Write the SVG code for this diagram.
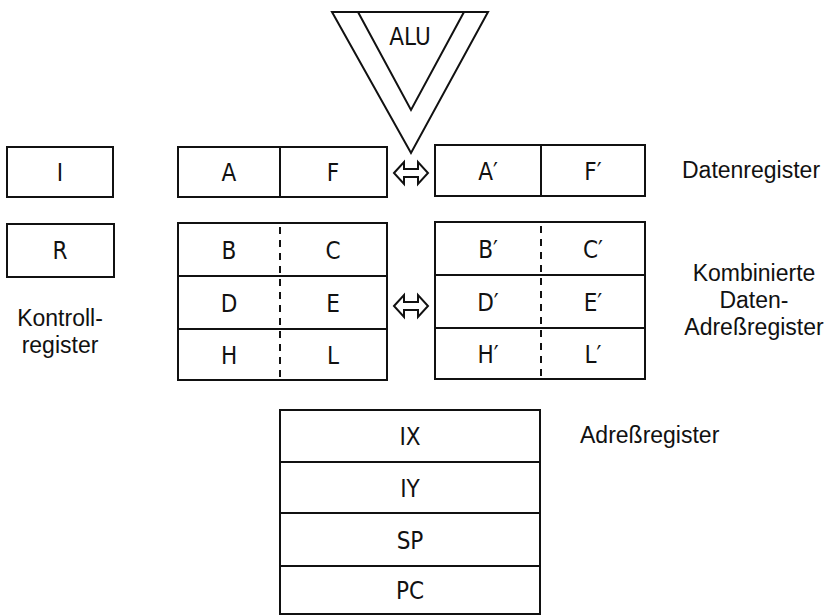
<svg xmlns="http://www.w3.org/2000/svg" width="829" height="616" viewBox="0 0 829 616">
<style>
.box{fill:#fff;stroke:#111;stroke-width:2}
.ln{stroke:#111;stroke-width:2;fill:none}
.dash{stroke:#111;stroke-width:2;stroke-dasharray:7 6;fill:none}
.reg{font-family:"DejaVu Sans Condensed","DejaVu Sans",sans-serif;font-size:24px;fill:#111;text-anchor:middle}
.lbl{font-family:"Liberation Sans",Arial,sans-serif;font-size:23px;fill:#111}
.arr{fill:#fff;stroke:#111;stroke-width:2;stroke-linejoin:miter}
</style>
<rect width="829" height="616" fill="#fff"/>
<g id="alu">
<polygon class="ln" points="332,12 488,12 411,153"/>
<polyline class="ln" points="358,12 411,110 464,12"/>
<text class="reg" x="410" y="45">ALU</text>
</g>
<g id="reg-I">
<rect class="box" x="7" y="147" width="106" height="50"/>
<text class="reg" x="60" y="181">I</text>
</g>
<g id="reg-R">
<rect class="box" x="7" y="224" width="107" height="53"/>
<text class="reg" x="60" y="259">R</text>
</g>
<g id="label-kontroll">
<text class="lbl" x="60" y="326" text-anchor="middle" font-size="22">Kontroll-</text>
<text class="lbl" x="60" y="353" text-anchor="middle" font-size="22">register</text>
</g>
<g id="reg-AF">
<rect class="box" x="178" y="147" width="209" height="50"/>
<line class="ln" x1="280" y1="147" x2="280" y2="197"/>
<text class="reg" x="229" y="181">A</text>
<text class="reg" x="333" y="181">F</text>
</g>
<g id="reg-AF2">
<rect class="box" x="435" y="145" width="210" height="51"/>
<line class="ln" x1="541" y1="145" x2="541" y2="196"/>
<text class="reg" x="488" y="180">A′</text>
<text class="reg" x="593" y="180">F′</text>
</g>
<g id="label-daten">
<text class="lbl" x="682" y="178">Datenregister</text>
</g>
<g id="reg-BCDEHL">
<rect class="box" x="178" y="223" width="209" height="157"/>
<line class="ln" x1="178" y1="276" x2="387" y2="276"/>
<line class="ln" x1="178" y1="329" x2="387" y2="329"/>
<line class="dash" x1="280" y1="227" x2="280" y2="378"/>
<text class="reg" x="229" y="259">B</text>
<text class="reg" x="333" y="259">C</text>
<text class="reg" x="229" y="312">D</text>
<text class="reg" x="333" y="312">E</text>
<text class="reg" x="229" y="364">H</text>
<text class="reg" x="333" y="364">L</text>
</g>
<g id="reg-BCDEHL2">
<rect class="box" x="435" y="222" width="210" height="157"/>
<line class="ln" x1="435" y1="275" x2="645" y2="275"/>
<line class="ln" x1="435" y1="328" x2="645" y2="328"/>
<line class="dash" x1="541" y1="226" x2="541" y2="377"/>
<text class="reg" x="488" y="258">B′</text>
<text class="reg" x="593" y="258">C′</text>
<text class="reg" x="488" y="311">D′</text>
<text class="reg" x="593" y="311">E′</text>
<text class="reg" x="488" y="363">H′</text>
<text class="reg" x="593" y="363">L′</text>
</g>
<g id="label-kombi">
<text class="lbl" x="754" y="281" text-anchor="middle">Kombinierte</text>
<text class="lbl" x="754" y="308" text-anchor="middle">Daten-</text>
<text class="lbl" x="754" y="335" text-anchor="middle">Adreßregister</text>
</g>
<g id="reg-addr">
<rect class="box" x="280" y="410" width="260" height="204"/>
<line class="ln" x1="280" y1="462" x2="540" y2="462"/>
<line class="ln" x1="280" y1="513" x2="540" y2="513"/>
<line class="ln" x1="280" y1="566" x2="540" y2="566"/>
<text class="reg" x="410" y="445">IX</text>
<text class="reg" x="410" y="497">IY</text>
<text class="reg" x="410" y="549">SP</text>
<text class="reg" x="410" y="599">PC</text>
</g>
<g id="label-adr">
<text class="lbl" x="580" y="443">Adreßregister</text>
</g>
<g id="connectors">
<polygon class="arr" points="394,173 404,162 404,169 418,169 418,162 428,173 418,184 418,177 404,177 404,184"/>
<polygon class="arr" points="394,306 404,295 404,302 418,302 418,295 428,306 418,317 418,310 404,310 404,317"/>
</g>
</svg>
